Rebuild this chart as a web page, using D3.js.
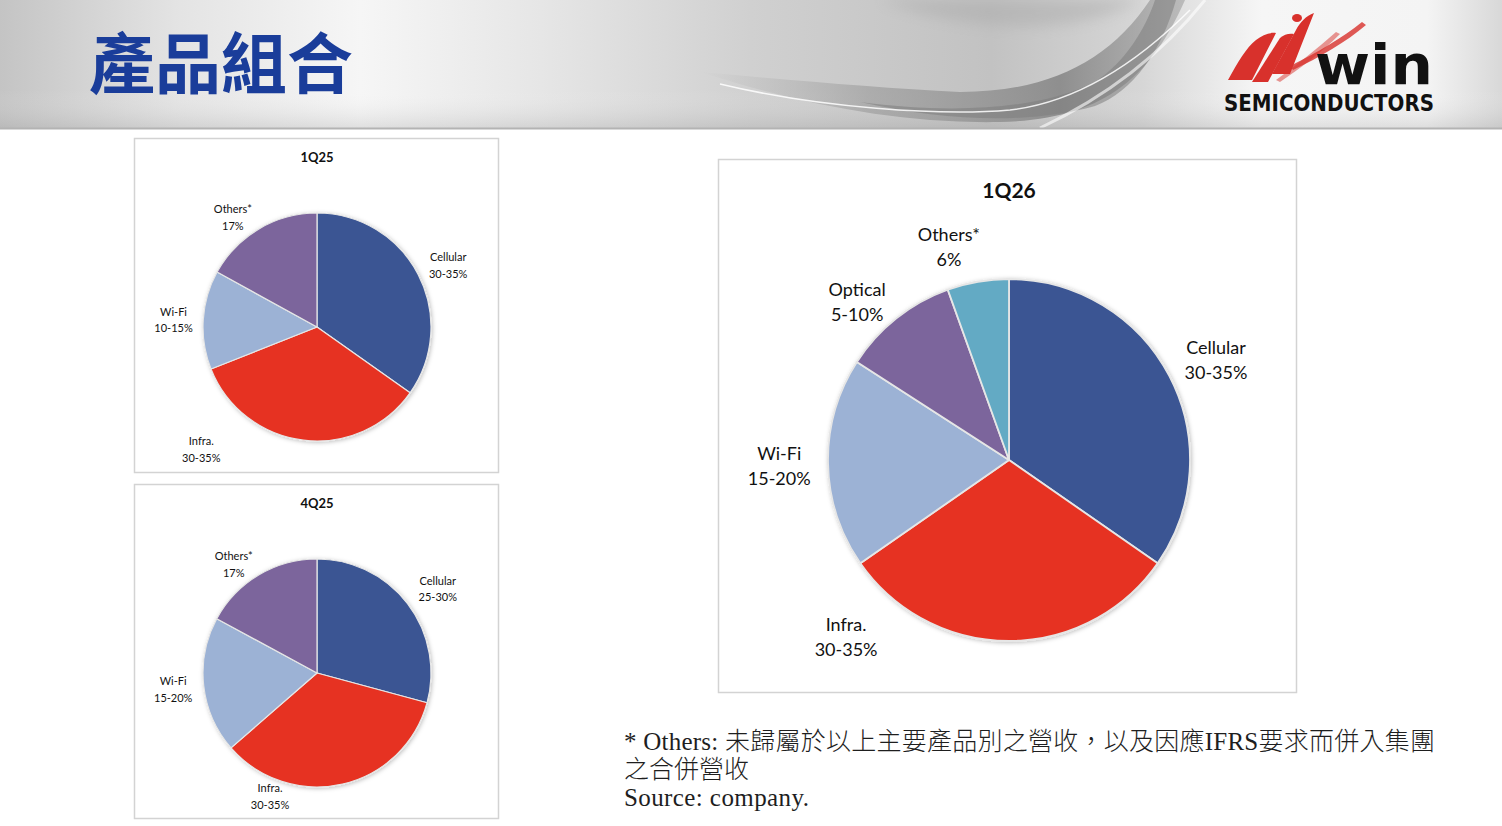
<!DOCTYPE html>
<html><head><meta charset="utf-8">
<script src="https://cdn.jsdelivr.net/npm/d3@7"></script>
<style>
html,body{margin:0;padding:0;background:#fff;}
svg{display:block;}
</style></head>
<body>
<svg id="c" width="1502" height="826"></svg>
<script>
// ---------- data ----------
const q125Categories = ["Cellular", "Infra.", "Wi-Fi", "Others*"];
const q125Values = [34.8, 34.2, 14.0, 17.0];
const q125Labels = ["30-35%", "30-35%", "10-15%", "17%"];

const q425Categories = ["Cellular", "Infra.", "Wi-Fi", "Others*"];
const q425Values = [29.2, 34.4, 19.3, 17.1];
const q425Labels = ["25-30%", "30-35%", "15-20%", "17%"];

const q126Categories = ["Cellular", "Infra.", "Wi-Fi", "Optical", "Others*"];
const q126Values = [34.7, 30.7, 18.8, 10.4, 5.5];
const q126Labels = ["30-35%", "30-35%", "15-20%", "5-10%", "6%"];

const pageTitle = "產品組合";
const footLines = ["* Others: 未歸屬於以上主要產品別之營收，以及因應IFRS要求而併入集團", "之合併營收", "Source: company."];

// ---------- styles ----------
const colors3 = ["#3a5593", "#e63323", "#9cb2d5", "#7b659c"];
const colors5 = ["#3a5593", "#e63323", "#9cb2d5", "#7b659c", "#63aac4"];

const svg = d3.select("#c");
const defs = svg.append("defs");

// header background
const hg = defs.append("linearGradient").attr("id", "hdr").attr("x1", "0").attr("x2", "1").attr("y1", "0").attr("y2", "0");
[[0, "#c4c4c4"], [0.12, "#e4e4e4"], [0.24, "#f6f6f6"], [0.36, "#e6e6e6"], [0.5, "#d0d0d0"], [0.66, "#c2c2c2"], [0.76, "#d6d6d6"], [0.84, "#f6f6f6"], [0.95, "#f4f4f4"], [1, "#d8d8d8"]]
  .forEach(([o, c]) => hg.append("stop").attr("offset", o).attr("stop-color", c));
const vg = defs.append("linearGradient").attr("id", "vsh").attr("x1", "0").attr("x2", "0").attr("y1", "0").attr("y2", "1");
[[0, "#ffffff", 0], [0.7, "#ffffff", 0], [1, "#999999", 0.25]]
  .forEach(([o, c, a]) => vg.append("stop").attr("offset", o).attr("stop-color", c).attr("stop-opacity", a));
const sg = defs.append("linearGradient").attr("id", "sw").attr("gradientUnits", "userSpaceOnUse")
  .attr("x1", 700).attr("x2", 1180).attr("y1", 0).attr("y2", 0);
[[0, "#b0b0b0", 0], [0.35, "#a0a0a0", 0.7], [0.75, "#888888", 0.9], [1, "#a0a0a0", 0.6]]
  .forEach(([o, c, a]) => sg.append("stop").attr("offset", o).attr("stop-color", c).attr("stop-opacity", a));

const blur2 = defs.append("filter").attr("id", "bl2").attr("filterUnits", "userSpaceOnUse")
  .attr("x", 600).attr("y", -20).attr("width", 700).attr("height", 160);
blur2.append("feGaussianBlur").attr("stdDeviation", 7);

const shadow = defs.append("filter").attr("id", "sh").attr("x", "-20%").attr("y", "-20%").attr("width", "140%").attr("height", "140%");
shadow.append("feDropShadow").attr("dx", 1).attr("dy", 1).attr("stdDeviation", 2).attr("flood-color", "#000").attr("flood-opacity", 0.25);

const head = svg.append("g");
head.append("rect").attr("x", 0).attr("y", 0).attr("width", 1502).attr("height", 128).attr("fill", "url(#hdr)");
head.append("rect").attr("x", 0).attr("y", 0).attr("width", 1502).attr("height", 128).attr("fill", "url(#vsh)");
// swooshes
head.append("path").attr("d", "M880,0 C960,30 1070,40 1140,0 Z").attr("fill", "#a8a8a8").attr("opacity", 0.45).attr("filter", "url(#bl2)");
head.append("path").attr("d", "M700,72 C790,80 880,88 960,92 C1050,92 1110,60 1150,0 L1185,0 C1150,80 1100,120 1000,122 C900,124 800,104 700,72 Z")
  .attr("fill", "url(#sw)");
head.append("path").attr("d", "M860,102 C950,114 1040,110 1095,82 C1125,62 1145,30 1155,0 L1176,0 C1162,50 1133,92 1095,106 C1030,124 950,122 860,102 Z")
  .attr("fill", "#7e7e7e").attr("opacity", 0.55);
head.append("path").attr("d", "M720,84 C820,108 940,116 1010,110 C1080,102 1140,60 1190,10").attr("fill", "none")
  .attr("stroke", "#ffffff").attr("stroke-width", 1.5).attr("opacity", 0.85);
head.append("path").attr("d", "M1040,128 C1110,95 1165,50 1205,0").attr("fill", "none")
  .attr("stroke", "#ffffff").attr("stroke-width", 3).attr("opacity", 0.6);
head.append("line").attr("x1", 0).attr("x2", 1502).attr("y1", 128.5).attr("y2", 128.5).attr("stroke", "#b3b3b3").attr("stroke-width", 2);

head.append("text").attr("x", 89).attr("y", 88).text(pageTitle)
  .attr("font-family", "'Noto Sans CJK TC','Noto Sans CJK SC',sans-serif").attr("font-weight", 700)
  .attr("font-size", 66).attr("fill", "#1a3d9a");

// logo
const logo = head.append("g");
const red = "#d8312c";
logo.append("path").attr("d", "M1228,80 C1238,62 1246,48 1256,40 C1262,35 1270,32 1276,33 L1252,80 Z").attr("fill", red);
logo.append("path").attr("d", "M1252,82 L1280,38 C1284,34 1290,33 1294,34 L1268,82 Z").attr("fill", red);
logo.append("path").attr("d", "M1272,74 L1296,30 C1300,22 1306,16 1314,13 L1290,74 Z").attr("fill", red);
logo.append("path").attr("d", "M1290,66 C1318,52 1342,38 1362,22 L1366,25 C1346,42 1320,57 1293,70 Z").attr("fill", red).attr("opacity", 0.8);
logo.append("path").attr("d", "M1276,80 C1298,64 1318,48 1336,32 L1340,34 C1320,54 1300,68 1280,82 Z").attr("fill", red).attr("opacity", 0.5);
logo.append("ellipse").attr("cx", 1297).attr("cy", 18).attr("rx", 5).attr("ry", 4).attr("fill", red);
logo.append("text").attr("x", 1315).attr("y", 84).text("win")
  .attr("font-family", "'DejaVu Sans',sans-serif").attr("font-weight", "bold").attr("font-size", 56)
  .attr("textLength", 118).attr("lengthAdjust", "spacingAndGlyphs").attr("fill", "#111");
logo.append("text").attr("x", 1224).attr("y", 111).text("SEMICONDUCTORS")
  .attr("font-family", "'DejaVu Sans',sans-serif").attr("font-weight", "bold").attr("font-size", 23)
  .attr("textLength", 210).attr("lengthAdjust", "spacingAndGlyphs").attr("fill", "#111");

// ---------- pies ----------
function drawPie(cfg) {
  const g = svg.append("g");
  g.append("rect").attr("x", cfg.box[0]).attr("y", cfg.box[1]).attr("width", cfg.box[2]).attr("height", cfg.box[3])
    .attr("fill", "#fff").attr("stroke", "#d3d3d3").attr("stroke-width", 1.5);
  g.append("text").attr("x", cfg.cx).attr("y", cfg.titleY).attr("text-anchor", "middle")
    .attr("font-family", "Lato, 'Open Sans', sans-serif").attr("font-weight", "bold")
    .attr("font-size", cfg.titleSize).attr("fill", "#111").text(cfg.title);
  const data = cfg.categories.map((c, i) => ({ cat: c, value: cfg.values[i], label: cfg.labels[i] }));
  const pie = d3.pie().sort(null).value(d => d.value);
  const arc = d3.arc().innerRadius(0).outerRadius(cfg.r);
  const color = d3.scaleOrdinal().domain(cfg.categories).range(cfg.colors);
  const pg = g.append("g").attr("transform", `translate(${cfg.cx},${cfg.cy})`);
  const arcs = pie(data);
  pg.append("g").attr("filter", "url(#sh)").selectAll("path").data(arcs).join("path")
    .attr("d", arc).attr("fill", d => color(d.data.cat))
    .attr("stroke", "#e6e6e6").attr("stroke-width", cfg.stroke).attr("stroke-linejoin", "round");
  // labels: polar placement
  const lg = pg.append("g").attr("font-family", "Lato, 'Open Sans', sans-serif").attr("font-size", cfg.labelSize).attr("fill", "#111");
  arcs.forEach((a, i) => {
    const [ang, rf] = cfg.labelPos[i];
    const t = ang * Math.PI / 180;
    const x = Math.sin(t) * rf * cfg.r, y = -Math.cos(t) * rf * cfg.r;
    const tx = lg.append("text").attr("text-anchor", "middle").attr("x", x).attr("y", y);
    tx.append("tspan").attr("x", x).attr("dy", -cfg.lineH / 2 + cfg.labelSize * 0.35).text(a.data.cat);
    tx.append("tspan").attr("x", x).attr("dy", cfg.lineH).text(a.data.label);
  });
}

drawPie({
  box: [134.5, 138.5, 364, 334], title: "1Q25", titleY: 162, titleSize: 13,
  cx: 317, cy: 327, r: 114, stroke: 1.2,
  categories: q125Categories, values: q125Values, labels: q125Labels, colors: colors3,
  labelSize: 11, lineH: 16.5,
  labelPos: [[65, 1.27], [223.3, 1.48], [272.8, 1.26], [322.4, 1.21]]
});
drawPie({
  box: [134.5, 484.5, 364, 334], title: "4Q25", titleY: 508, titleSize: 13,
  cx: 317, cy: 673, r: 114, stroke: 1.2,
  categories: q425Categories, values: q425Values, labels: q425Labels, colors: colors3,
  labelSize: 11, lineH: 16.5,
  labelPos: [[55.2, 1.29], [200.8, 1.16], [263.3, 1.27], [322.5, 1.20]]
});
drawPie({
  box: [718.5, 159.5, 578, 533], title: "1Q26", titleY: 198, titleSize: 21,
  cx: 1009, cy: 460, r: 181, stroke: 1.8,
  categories: q126Categories, values: q126Values, labels: q126Labels, colors: colors5,
  labelSize: 18, lineH: 25,
  labelPos: [[64.2, 1.27], [222.6, 1.33], [268.5, 1.27], [316.1, 1.21], [344.2, 1.22]]
});

// ---------- footnote ----------
const ft = svg.append("g").attr("font-family", "'Liberation Serif','Noto Sans CJK TC',serif")
  .attr("font-size", 25).attr("font-weight", 300).attr("fill", "#1e1e1e");
const footLen = [811, null, 185];
footLines.forEach((s, i) => {
  const t = ft.append("text").attr("x", 624).attr("y", 750 + i * 28).text(s);
  if (footLen[i]) t.attr("textLength", footLen[i]).attr("lengthAdjust", "spacing");
});
</script>
</body></html>
